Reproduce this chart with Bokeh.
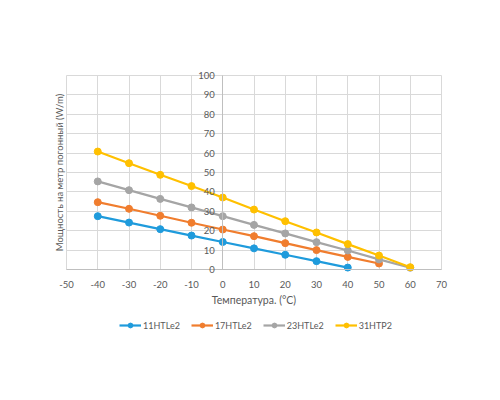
from bokeh.plotting import figure
from bokeh.models import (Legend, LegendItem, LinearAxis, Range1d, FixedTicker,
                          NumeralTickFormatter)
from bokeh.embed import file_html
from bokeh.resources import INLINE

# temperatures (°C) and power per metre (W/m)
temps = [-40, -30, -20, -10, 0, 10, 20, 30, 40, 50, 60]
p_11htle2 = [27.5, 24.2, 20.8, 17.5, 14.2, 10.9, 7.6, 4.3, 1.0]
p_17htle2 = [34.7, 31.3, 27.7, 24.1, 20.6, 17.2, 13.6, 10.0, 6.5, 3.1]
p_23htle2 = [45.4, 40.9, 36.4, 32.0, 27.5, 23.0, 18.6, 14.1, 9.8, 5.2, 0.9]
p_31htp2 = [60.8, 54.8, 48.8, 43.0, 37.1, 30.9, 24.9, 19.1, 13.1, 7.2, 1.2]

x_ticks = [-50, -40, -30, -20, -10, 0, 10, 20, 30, 40, 50, 60, 70]
y_ticks = [0, 10, 20, 30, 40, 50, 60, 70, 80, 90, 100]

names = ["11HTLe2", "17HTLe2", "23HTLe2", "31HTP2"]
series = [p_11htle2, p_17htle2, p_23htle2, p_31htp2]
colors = ["#1f9bdc", "#f07d2e", "#a5a5a5", "#ffc000"]

FONT = "Lato"
TXT = "#595959"
GRID = "#d9d9d9"

# the frame is larger than the data area so that the legend and end labels fit inside it,
# and symmetric around y=50 so the y title sits in the middle of the 0..100 range
p = figure(frame_width=395, frame_height=338, x_range=Range1d(-53.2, 73.2),
           y_range=Range1d(-37.1, 137.1),
           output_backend="svg", toolbar_location=None,
           min_border_left=56, min_border_right=40, min_border_top=3, min_border_bottom=0)

p.outline_line_color = None
p.xgrid.ticker = FixedTicker(ticks=x_ticks)
p.ygrid.ticker = FixedTicker(ticks=y_ticks)
p.xgrid.cross_bounds = (0, 100)
p.ygrid.cross_bounds = (-50, 70)
p.grid.grid_line_color = GRID

# x axis drawn at y = 0
p.xaxis.ticker = FixedTicker(ticks=x_ticks)
p.xaxis.formatter = NumeralTickFormatter(format="0")
p.xaxis.fixed_location = 0
p.xaxis.bounds = (-50, 70)
p.xaxis.axis_label = "Температура. (°C)"
p.xaxis.axis_line_color = "#bfbfbf"
p.xaxis.major_tick_line_color = None
p.xaxis.minor_tick_line_color = None
p.xaxis.major_label_standoff = 5
p.xaxis.axis_label_standoff = 3

# y axis drawn at x = 0
p.yaxis.ticker = FixedTicker(ticks=y_ticks)
p.yaxis.formatter = NumeralTickFormatter(format="0")
p.yaxis.fixed_location = 0
p.yaxis.bounds = (0, 100)
p.yaxis.axis_line_color = "#bfbfbf"
p.yaxis.major_tick_line_color = None
p.yaxis.minor_tick_line_color = None
p.yaxis.major_label_standoff = 2

for ax in p.axis:
    ax.major_label_text_font = FONT
    ax.major_label_text_font_size = "9.5px"
    ax.major_label_text_color = TXT
    ax.axis_label_text_font = FONT
    ax.axis_label_text_font_size = "10.5px"
    ax.axis_label_text_font_style = "normal"
    ax.axis_label_text_color = TXT

# separate axis only for the y label at the left edge
ylab = LinearAxis(axis_label="Мощность на метр погонный (W/m)", ticker=FixedTicker(ticks=[]),
                  bounds=(0, 100), axis_line_color=None, major_tick_line_color=None,
                  minor_tick_line_color=None,
                  axis_label_text_font=FONT, axis_label_text_font_size="9.5px",
                  axis_label_text_font_style="normal", axis_label_text_color=TXT,
                  axis_label_standoff=-8)
p.add_layout(ylab, "left")

items = []
for name, vals, c in zip(names, series, colors):
    xs = temps[:len(vals)]
    r1 = p.line(xs, vals, line_color=c, line_width=2.2)
    r2 = p.scatter(xs, vals, size=7, fill_color=c, line_color=c)
    items.append(LegendItem(label=name, renderers=[r1, r2]))

legend = Legend(items=items, orientation="horizontal", location=(63, 10),
                border_line_color=None, background_fill_alpha=0,
                label_text_font=FONT, label_text_font_size="9px",
                label_text_color=TXT, glyph_width=22, glyph_height=12, label_height=12,
                spacing=11, label_standoff=2, padding=0, margin=0)
p.add_layout(legend)

open("out.html", "w").write(file_html(p, INLINE))
